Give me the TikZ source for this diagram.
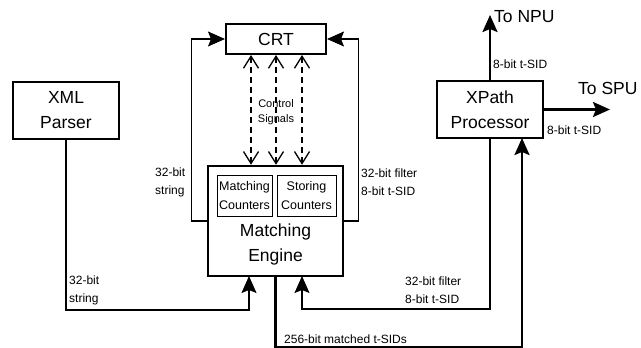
\documentclass[tikz,border=0pt]{standalone}
\usepackage{fontspec}
\setmainfont{Liberation Sans}
\usetikzlibrary{arrows.meta,calc}
\begin{document}
\begin{tikzpicture}[x=1pt,y=-1pt,
 box/.style={draw,line width=2pt,rectangle,inner sep=0pt,align=center},
 inbox/.style={draw,line width=0.9pt,rectangle,inner sep=0pt,align=center,font=\fontsize{12.5}{18.5}\selectfont},
 big/.style={font=\fontsize{17.5}{25}\selectfont},
 lab/.style={inner sep=0pt,align=left,anchor=west,font=\fontsize{12}{18}\selectfont},
 thinw/.style={line width=1.2pt},
 thickw/.style={line width=2.5pt},
 arr/.style={-{Stealth[length=17pt,width=15pt,inset=3pt]}},
 ctrl/.style={dash pattern=on 6pt off 4pt,line width=1.3pt,{Straight Barb[length=12pt,width=15pt]}-{Straight Barb[length=12pt,width=15pt]}}
]
\useasboundingbox (0,0) rectangle (641,348);
\fill[white] (0,0) rectangle (641,348);

% boxes
\node[box,big,minimum width=100pt,minimum height=30pt] (crt) at (276,39) {CRT};
\node[box,big,minimum width=106pt,minimum height=57pt] (xml) at (66,110.5) {XML\\Parser};
\node[box,line width=2.5pt,minimum width=135pt,minimum height=110pt] (me) at (275.5,221) {};
\node[inbox,minimum width=55pt,minimum height=41pt] (mc) at (244.5,195.5) {Matching\\Counters};
\node[inbox,minimum width=59pt,minimum height=41pt] (sc) at (306.5,195.5) {Storing\\Counters};
\node[big,align=center,inner sep=0pt] (metxt) at (275.5,244.5) {Matching\\Engine};
\node[box,big,minimum width=106pt,minimum height=57pt] (xp) at (490,109.5) {XPath\\Processor};

% loops to CRT
\draw[thinw,arr] (me.west) -- ++(-15,0) |- (crt.west);
\draw[thinw,arr] (me.east) -- ++(14,0) |- (crt.east);

% control signals
\foreach \x/\n in {251/a,276/b,302/c} {
  \coordinate (d\n) at (\x,0);
  \draw[ctrl] (crt.south -| d\n) -- (me.north -| d\n);
}
\node[inner sep=0pt,align=center,font=\fontsize{11}{15}\selectfont] (cs) at (276,112.5) {Control\\Signals};

% inputs to matching engine
\coordinate (mein1) at (249,276);
\coordinate (mein2) at (302,276);
\draw[thinw,arr] (xml.south) -- ++(0,170) -| (mein1);
\draw[thinw,arr] (xp.south) -- ++(0,170) -| (mein2);

% matched output
\coordinate (xpin) at (522,138);
\draw[thickw,arr] (me.south) -- ++(0,70) -| (xpin);

% outputs of XPath
\coordinate (npu) at (490,15);
\coordinate (spu) at (610,109.5);
\draw[thickw,arr] (xp.north) -- (npu);
\draw[thickw,arr] (xp.east) -- (spu);

% labels
\node[lab] (l1) at (155,182) {32-bit\\string};
\node[lab] (l2) at (361,182) {32-bit filter\\8-bit t-SID};
\node[lab] (l3) at (69,290) {32-bit\\string};
\node[lab] (l4) at (405,290) {32-bit filter\\8-bit t-SID};
\node[lab] (l5) at (284,339) {256-bit matched t-SIDs};
\node[lab] (l6) at (493,64) {8-bit t-SID};
\node[lab] (l7) at (547,130) {8-bit t-SID};
\node[lab,font=\fontsize{17.5}{20}\selectfont] (tnpu) at (494,17) {To NPU};
\node[lab,font=\fontsize{17.5}{20}\selectfont] (tspu) at (578,88) {To SPU};
\end{tikzpicture}
\end{document}
